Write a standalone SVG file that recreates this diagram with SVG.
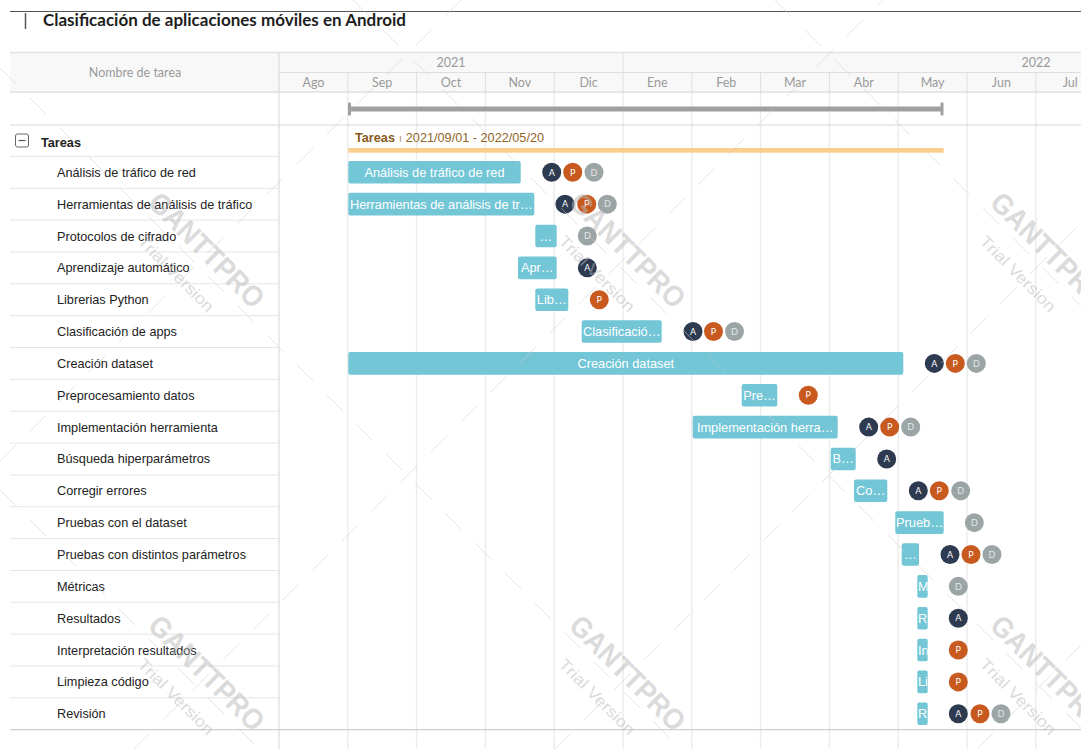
<svg xmlns="http://www.w3.org/2000/svg" xmlns:xlink="http://www.w3.org/1999/xlink" width="1081" height="749" viewBox="0 0 1081 749">
  <style>
    .title { font-family: Lato, "Noto Sans", sans-serif; font-weight: 700; font-size: 17px; fill: #1e1e1e; }
    .hdr { font-family: Lato, "Noto Sans", sans-serif; font-size: 12.5px; fill: #9a9a9a; text-anchor: middle; }
    .name { font-family: "Liberation Sans", Arial, sans-serif; font-size: 12.7px; fill: #222; }
    .group { font-family: "Liberation Sans", Arial, sans-serif; font-size: 12.7px; font-weight: 700; fill: #222; }
    .bar { fill: #72c6d6; }
    .bt { font-family: "Liberation Sans", Arial, sans-serif; font-size: 12.8px; fill: #fff; text-anchor: middle; }
    .btl { font-family: "Liberation Sans", Arial, sans-serif; font-size: 12.8px; fill: #fff; }
    .avt { font-family: Lato, "Noto Sans", sans-serif; font-size: 9px; fill: #fff; text-anchor: middle; }
    .grid { stroke: #ececec; stroke-width: 1.5; }
    .hline { stroke: #dedede; stroke-width: 1; }
    .rowline { stroke: #e6e6e6; stroke-width: 1; }
    .wm1 { font-family: "Liberation Sans", Arial, sans-serif; font-weight: 700; font-size: 29px; fill: #b8b8b8; text-anchor: middle; }
    .wm2 { font-family: "Liberation Sans", Arial, sans-serif; font-size: 16px; fill: #b8b8b8; text-anchor: middle; }
    .wml { stroke: #cccccc; stroke-width: 1; stroke-dasharray: 23 19; }
  </style>
  <defs>
    <g id="avA"><circle r="9.5" fill="#2d3a4f"/><text class="avt" y="3.2">A</text></g>
    <g id="avP"><circle r="9.5" fill="#c95a1f"/><text class="avt" y="3.2">P</text></g>
    <g id="avD"><circle r="9.5" fill="#9ca5a6"/><text class="avt" y="3.2" style="fill:#e4e8e8">D</text></g>
    <g id="wm">
      <text class="wm1" x="2" y="11" textLength="150" lengthAdjust="spacingAndGlyphs">GANTTPRO</text>
      <text class="wm2" x="-3" y="45" textLength="100" lengthAdjust="spacingAndGlyphs">Trial Version</text>
    </g>
    <clipPath id="narrow"><rect x="917.3" y="570" width="10.4" height="160"/></clipPath>
  </defs>

  <rect width="1081" height="749" fill="#fff"/>

  <!-- title strip -->
  <g id="title">
    <line x1="10" y1="11.5" x2="1081" y2="11.5" stroke="#555" stroke-width="1"/>
    <line x1="25.5" y1="13" x2="25.5" y2="29" stroke="#555" stroke-width="1.5"/>
    <text class="title" x="43" y="26">Clasificación de aplicaciones móviles en Android</text>
  </g>

  <!-- header band -->
  <g id="header">
    <rect x="10" y="52" width="1071" height="40" fill="#f8f8f8"/>
    <line x1="10" y1="52.5" x2="1081" y2="52.5" stroke="#e2e2e2" stroke-width="1.5"/>
    <line x1="279" y1="72.5" x2="1081" y2="72.5" class="hline"/>
    <text class="hdr" x="135" y="77">Nombre de tarea</text>
    <text class="hdr" x="451" y="67">2021</text>
    <text class="hdr" x="1036" y="67">2022</text>
    <line x1="623" y1="52" x2="623" y2="72" class="hline"/>
    <g class="hline">
      <line x1="347.8" y1="72" x2="347.8" y2="92"/>
      <line x1="416.6" y1="72" x2="416.6" y2="92"/>
      <line x1="485.4" y1="72" x2="485.4" y2="92"/>
      <line x1="554.2" y1="72" x2="554.2" y2="92"/>
      <line x1="623" y1="72" x2="623" y2="92"/>
      <line x1="691.8" y1="72" x2="691.8" y2="92"/>
      <line x1="760.6" y1="72" x2="760.6" y2="92"/>
      <line x1="829.4" y1="72" x2="829.4" y2="92"/>
      <line x1="898.2" y1="72" x2="898.2" y2="92"/>
      <line x1="967" y1="72" x2="967" y2="92"/>
      <line x1="1035.8" y1="72" x2="1035.8" y2="92"/>
    </g>
    <text class="hdr" x="313.4" y="87">Ago</text>
    <text class="hdr" x="382.2" y="87">Sep</text>
    <text class="hdr" x="451" y="87">Oct</text>
    <text class="hdr" x="519.8" y="87">Nov</text>
    <text class="hdr" x="588.6" y="87">Dic</text>
    <text class="hdr" x="657.4" y="87">Ene</text>
    <text class="hdr" x="726.2" y="87">Feb</text>
    <text class="hdr" x="795" y="87">Mar</text>
    <text class="hdr" x="863.8" y="87">Abr</text>
    <text class="hdr" x="932.6" y="87">May</text>
    <text class="hdr" x="1001.4" y="87">Jun</text>
    <text class="hdr" x="1070.2" y="87">Jul</text>
  </g>

  <!-- month grid of the timeline -->
  <g id="grid" class="grid">
    <line x1="347.8" y1="92" x2="347.8" y2="749"/>
    <line x1="416.6" y1="92" x2="416.6" y2="749"/>
    <line x1="485.4" y1="92" x2="485.4" y2="749"/>
    <line x1="554.2" y1="92" x2="554.2" y2="749"/>
    <line x1="623" y1="92" x2="623" y2="749"/>
    <line x1="691.8" y1="92" x2="691.8" y2="749"/>
    <line x1="760.6" y1="92" x2="760.6" y2="749"/>
    <line x1="829.4" y1="92" x2="829.4" y2="749"/>
    <line x1="898.2" y1="92" x2="898.2" y2="749"/>
    <line x1="967" y1="92" x2="967" y2="749"/>
    <line x1="1035.8" y1="92" x2="1035.8" y2="749"/>
  </g>

  <!-- table rules -->
  <g id="rules">
    <line x1="10" y1="92" x2="1081" y2="92" stroke="#d2d2d2" stroke-width="1.2"/>
    <line x1="10" y1="125" x2="1081" y2="125" stroke="#d8d8d8" stroke-width="1.2"/>
    <line x1="279" y1="52" x2="279" y2="749" stroke="#dcdcdc" stroke-width="1.2"/>
    <g class="rowline">
      <line x1="10" y1="156.4" x2="279" y2="156.4"/>
      <line x1="10" y1="188.25" x2="279" y2="188.25"/>
      <line x1="10" y1="220.1" x2="279" y2="220.1"/>
      <line x1="10" y1="251.95" x2="279" y2="251.95"/>
      <line x1="10" y1="283.8" x2="279" y2="283.8"/>
      <line x1="10" y1="315.65" x2="279" y2="315.65"/>
      <line x1="10" y1="347.5" x2="279" y2="347.5"/>
      <line x1="10" y1="379.35" x2="279" y2="379.35"/>
      <line x1="10" y1="411.2" x2="279" y2="411.2"/>
      <line x1="10" y1="443.05" x2="279" y2="443.05"/>
      <line x1="10" y1="474.9" x2="279" y2="474.9"/>
      <line x1="10" y1="506.75" x2="279" y2="506.75"/>
      <line x1="10" y1="538.6" x2="279" y2="538.6"/>
      <line x1="10" y1="570.45" x2="279" y2="570.45"/>
      <line x1="10" y1="602.3" x2="279" y2="602.3"/>
      <line x1="10" y1="634.15" x2="279" y2="634.15"/>
      <line x1="10" y1="666" x2="279" y2="666"/>
      <line x1="10" y1="697.85" x2="279" y2="697.85"/>
    </g>
    <line x1="10" y1="729.7" x2="1081" y2="729.7" stroke="#cfcfcf" stroke-width="1.2"/>
  </g>

  <!-- project span -->
  <g id="project-span">
    <rect x="348.5" y="106.5" width="594" height="5" fill="#a0a0a0"/>
    <rect x="348" y="102.5" width="3" height="13" rx="1" fill="#a0a0a0"/>
    <rect x="940.5" y="102.5" width="3" height="13" rx="1" fill="#a0a0a0"/>
  </g>

  <!-- summary group -->
  <g id="group-tareas">
    <rect x="15.5" y="134" width="13" height="13" rx="2" fill="none" stroke="#666" stroke-width="1"/>
    <line x1="18.5" y1="140.5" x2="25.5" y2="140.5" stroke="#555" stroke-width="1.2"/>
    <text class="group" x="41" y="146.5">Tareas</text>
    <text x="355" y="142" font-family="'Liberation Sans', Arial, sans-serif" font-size="12.7"><tspan font-weight="700" fill="#8a5a1c">Tareas</tspan><tspan fill="#b08a5a" dx="4" font-size="10">ı</tspan><tspan fill="#8f6425" dx="4">2021/09/01 - 2022/05/20</tspan></text>
    <rect x="348.3" y="148" width="595.4" height="4.7" fill="#f9cf8d"/>
  </g>

  <!-- tasks -->
  <g id="task-01">
    <text class="name" x="57" y="176.8">Análisis de tráfico de red</text>
    <rect class="bar" x="348.3" y="161" width="172.4" height="22.6" rx="2"/>
    <text class="bt" x="434.5" y="176.8">Análisis de tráfico de red</text>
    <use href="#avA" x="551.7" y="172.3"/><use href="#avP" x="572.7" y="172.3"/><use href="#avD" x="594" y="172.3"/>
  </g>
  <g id="task-02">
    <text class="name" x="57" y="208.65">Herramientas de análisis de tráfico</text>
    <rect class="bar" x="348.3" y="192.85" width="186" height="22.6" rx="2"/>
    <text class="bt" x="441.3" y="208.65">Herramientas de análisis de tr…</text>
    <use href="#avA" x="565" y="204.15"/><use href="#avP" x="586.7" y="204.15"/><use href="#avD" x="607.3" y="204.15"/>
  </g>
  <g id="task-03">
    <text class="name" x="57" y="240.5">Protocolos de cifrado</text>
    <rect class="bar" x="535.3" y="224.7" width="21.4" height="22.6" rx="2"/>
    <text class="bt" x="546" y="240.5">…</text>
    <use href="#avD" x="587.3" y="236"/>
  </g>
  <g id="task-04">
    <text class="name" x="57" y="272.35">Aprendizaje automático</text>
    <rect class="bar" x="518" y="256.55" width="38.7" height="22.6" rx="2"/>
    <text class="bt" x="537.3" y="272.35">Apr…</text>
    <use href="#avA" x="587.3" y="267.85"/>
  </g>
  <g id="task-05">
    <text class="name" x="57" y="304.2">Librerias Python</text>
    <rect class="bar" x="535.3" y="288.4" width="33" height="22.6" rx="2"/>
    <text class="bt" x="551.8" y="304.2">Lib…</text>
    <use href="#avP" x="599.3" y="299.7"/>
  </g>
  <g id="task-06">
    <text class="name" x="57" y="336.05">Clasificación de apps</text>
    <rect class="bar" x="581.7" y="320.25" width="80" height="22.6" rx="2"/>
    <text class="bt" x="621.7" y="336.05">Clasificació…</text>
    <use href="#avA" x="693" y="331.55"/><use href="#avP" x="713.5" y="331.55"/><use href="#avD" x="734.5" y="331.55"/>
  </g>
  <g id="task-07">
    <text class="name" x="57" y="367.9">Creación dataset</text>
    <rect class="bar" x="348.3" y="352.1" width="555" height="22.6" rx="2"/>
    <text class="bt" x="625.8" y="367.9">Creación dataset</text>
    <use href="#avA" x="934.3" y="363.4"/><use href="#avP" x="955.3" y="363.4"/><use href="#avD" x="976.3" y="363.4"/>
  </g>
  <g id="task-08">
    <text class="name" x="57" y="399.75">Preprocesamiento datos</text>
    <rect class="bar" x="741.7" y="383.95" width="35.6" height="22.6" rx="2"/>
    <text class="bt" x="759.5" y="399.75">Pre…</text>
    <use href="#avP" x="808.3" y="395.25"/>
  </g>
  <g id="task-09">
    <text class="name" x="57" y="431.6">Implementación herramienta</text>
    <rect class="bar" x="692.7" y="415.8" width="145" height="22.6" rx="2"/>
    <text class="bt" x="765.2" y="431.6">Implementación herra…</text>
    <use href="#avA" x="868.7" y="427.1"/><use href="#avP" x="889.7" y="427.1"/><use href="#avD" x="910.7" y="427.1"/>
  </g>
  <g id="task-10">
    <text class="name" x="57" y="463.45">Búsqueda hiperparámetros</text>
    <rect class="bar" x="830.7" y="447.65" width="25" height="22.6" rx="2"/>
    <text class="bt" x="843.2" y="463.45">B…</text>
    <use href="#avA" x="886.7" y="458.95"/>
  </g>
  <g id="task-11">
    <text class="name" x="57" y="495.3">Corregir errores</text>
    <rect class="bar" x="854" y="479.5" width="33.3" height="22.6" rx="2"/>
    <text class="bt" x="870.7" y="495.3">Co…</text>
    <use href="#avA" x="918.3" y="490.8"/><use href="#avP" x="939.3" y="490.8"/><use href="#avD" x="960.7" y="490.8"/>
  </g>
  <g id="task-12">
    <text class="name" x="57" y="527.15">Pruebas con el dataset</text>
    <rect class="bar" x="895.3" y="511.35" width="48.4" height="22.6" rx="2"/>
    <text class="bt" x="919.5" y="527.15">Prueb…</text>
    <use href="#avD" x="974.3" y="522.65"/>
  </g>
  <g id="task-13">
    <text class="name" x="57" y="559">Pruebas con distintos parámetros</text>
    <rect class="bar" x="901.7" y="543.2" width="17.3" height="22.6" rx="2"/>
    <text class="bt" x="910.3" y="559">…</text>
    <use href="#avA" x="950" y="554.5"/><use href="#avP" x="971" y="554.5"/><use href="#avD" x="992" y="554.5"/>
  </g>
  <g id="task-14">
    <text class="name" x="57" y="590.85">Métricas</text>
    <rect class="bar" x="917.3" y="575.05" width="10.4" height="22.6" rx="2"/>
    <text class="btl" x="918" y="590.85" clip-path="url(#narrow)">M</text>
    <use href="#avD" x="958.3" y="586.35"/>
  </g>
  <g id="task-15">
    <text class="name" x="57" y="622.7">Resultados</text>
    <rect class="bar" x="917.3" y="606.9" width="10.4" height="22.6" rx="2"/>
    <text class="btl" x="918" y="622.7" clip-path="url(#narrow)">R</text>
    <use href="#avA" x="958.3" y="618.2"/>
  </g>
  <g id="task-16">
    <text class="name" x="57" y="654.55">Interpretación resultados</text>
    <rect class="bar" x="917.3" y="638.75" width="10.4" height="22.6" rx="2"/>
    <text class="btl" x="918" y="654.55" clip-path="url(#narrow)">In</text>
    <use href="#avP" x="958.3" y="650.05"/>
  </g>
  <g id="task-17">
    <text class="name" x="57" y="686.4">Limpieza código</text>
    <rect class="bar" x="917.3" y="670.6" width="10.4" height="22.6" rx="2"/>
    <text class="btl" x="918" y="686.4" clip-path="url(#narrow)">Li</text>
    <use href="#avP" x="958.3" y="681.9"/>
  </g>
  <g id="task-18">
    <text class="name" x="57" y="718.25">Revisión</text>
    <rect class="bar" x="917.3" y="702.45" width="10.4" height="22.6" rx="2"/>
    <text class="btl" x="918" y="718.25" clip-path="url(#narrow)">R</text>
    <use href="#avA" x="958.3" y="713.75"/><use href="#avP" x="980" y="713.75"/><use href="#avD" x="1001" y="713.75"/>
  </g>

  <g id="connectors"/>

  <!-- trial watermark layer -->
  <g id="watermark" opacity="0.5">
    <g class="wml">
      <line x1="775" y1="0" x2="1081" y2="306"/>
      <line x1="353" y1="0" x2="1081" y2="728"/>
      <line x1="0" y1="68" x2="681" y2="749"/>
      <line x1="0" y1="490" x2="259" y2="749"/>
      <line x1="0" y1="461" x2="461" y2="0"/>
      <line x1="134" y1="749" x2="883" y2="0"/>
      <line x1="555" y1="749" x2="1081" y2="223"/>
      <line x1="977" y1="749" x2="1081" y2="645"/>
    </g>
    <use href="#wm" transform="translate(206,248) rotate(45)"/>
    <use href="#wm" transform="translate(627,248) rotate(45)"/>
    <use href="#wm" transform="translate(1048,248) rotate(45)"/>
    <use href="#wm" transform="translate(206,671) rotate(45)"/>
    <use href="#wm" transform="translate(627,671) rotate(45)"/>
    <use href="#wm" transform="translate(1048,671) rotate(45)"/>
  </g>
</svg>
